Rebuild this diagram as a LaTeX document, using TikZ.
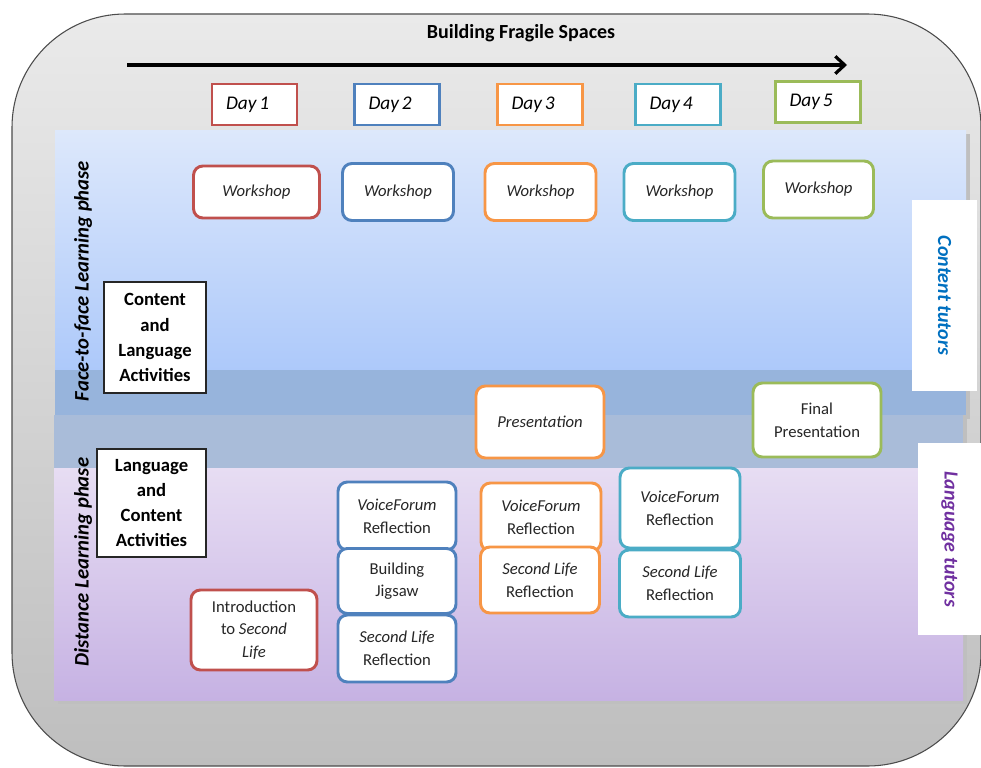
\documentclass[tikz,border=0pt]{standalone}
\usepackage{fontspec}
\setmainfont{Carlito}
\usetikzlibrary{arrows.meta}
\definecolor{dayred}{RGB}{192,80,77}
\definecolor{dayblue}{RGB}{79,129,189}
\definecolor{dayorange}{RGB}{247,150,70}
\definecolor{dayteal}{RGB}{75,172,198}
\definecolor{daygreen}{RGB}{155,187,89}
\definecolor{tutorblue}{RGB}{0,112,192}
\definecolor{tutorpurple}{RGB}{112,48,160}
\definecolor{frametop}{RGB}{234,234,234}
\definecolor{framebot}{RGB}{190,190,190}
\definecolor{facetop}{RGB}{221,232,251}
\definecolor{facebot}{RGB}{173,201,250}
\definecolor{stripa}{RGB}{151,180,220}
\definecolor{stripb}{RGB}{169,188,217}
\definecolor{disttop}{RGB}{231,221,243}
\definecolor{distbot}{RGB}{198,178,227}
\newcommand{\pxu}{0.75pt}
\newcommand{\dayno}[1]{Day\hspace{0.15em}#1}

\begin{document}
\begin{tikzpicture}[x=0.75pt,y=-0.75pt,
  wh/.style 2 args={minimum width=#1*\pxu,minimum height=#2*\pxu},
  daybox/.style={draw=#1,line width=2.2pt,fill=white,inner sep=0pt,inner xsep=10.5pt,text width=42.75pt,align=left,minimum height=41*\pxu,font=\fontsize{14.5}{17}\selectfont\itshape},
  actbox/.style={draw=#1,line width=2.2pt,fill=white,rounded corners=7pt,inner sep=0pt,align=center,text=black!85,font=\fontsize{12.5}{17}\selectfont},
  actlabel/.style={draw=black!85,line width=0.8pt,fill=white,inner sep=0pt,align=center,font=\fontsize{14}{18.8}\selectfont\bfseries},
  phaselabel/.style={rotate=90,font=\fontsize{15.5}{17}\selectfont\bfseries\itshape},
  tutorlabel/.style={rotate=-90,fill=white,inner sep=0pt,text=#1,font=\fontsize{15}{17}\selectfont\bfseries\itshape}]
\useasboundingbox (0,0) rectangle (981,767);
\shadedraw[top color=frametop,bottom color=framebot,draw=black!70,line width=0.8pt,rounded corners=85pt] (12,14) rectangle (981,766);
\fill[black!25] (59,134) rectangle (970,419);
\fill[black!25] (58,419) rectangle (967,704);
\shade[top color=facetop,bottom color=facebot] (55,130) rectangle (966,370);
\fill[stripa] (55,370) rectangle (966,415);
\fill[stripb] (54,415) rectangle (963,468);
\shade[top color=disttop,bottom color=distbot] (54,468) rectangle (963,700);

\node (title) at (521,33) [font=\fontsize{15}{18}\selectfont\bfseries] {Building Fragile Spaces};
\coordinate (tstart) at (127,65);
\coordinate (tend) at (847,65);
\draw[-{Straight Barb[length=7pt,width=13pt]},line width=2.4pt] (tstart) -- (tend);

\node (d1) at (254.5,104.5) [daybox=dayred] {\dayno{1}};
\node (d2) at (397,104.5) [daybox=dayblue] {\dayno{2}};
\node (d3) at (540,104.5) [daybox=dayorange] {\dayno{3}};
\node (d4) at (678,104.5) [daybox=dayteal] {\dayno{4}};
\node (d5) at (818,102) [daybox=daygreen] {\dayno{5}};

\node (ws1) at (256.5,192) [actbox=dayred,wh={126}{52}] {\textit{Workshop}};
\node (ws2) at (398,192) [actbox=dayblue,wh={111}{57}] {\textit{Workshop}};
\node (ws3) at (540.5,192) [actbox=dayorange,wh={111}{57}] {\textit{Workshop}};
\node (ws4) at (679.5,192) [actbox=dayteal,wh={111}{57}] {\textit{Workshop}};
\node (ws5) at (818.5,189.5) [actbox=daygreen,wh={110}{57}] {\textit{Workshop}};

\node (cla) at (155,337.5) [actlabel,wh={102}{111}] {Content\\and\\Language\\Activities};
\node (lca) at (151.5,503) [actlabel,wh={109}{108}] {Language\\and\\Content\\Activities};
\node (ftf) at (83,281) [phaselabel] {Face-to-face Learning phase};
\node (dist) at (83,562) [phaselabel] {Distance Learning phase};

\node (pr3) at (540,422) [actbox=dayorange,wh={128}{72}] {\textit{Presentation}};
\node (fp5) at (817,420) [actbox=daygreen,wh={128}{74}] {Final\\Presentation};

\node (intro1) at (254,630) [actbox=dayred,wh={126}{80}] {Introduction\\to \textit{Second}\\\textit{Life}};
\node (vf2) at (397,516) [actbox=dayblue,wh={118}{68}] {\textit{VoiceForum}\\Reflection};
\node (bj2) at (397,581) [actbox=dayblue,wh={118}{65}] {Building\\Jigsaw};
\node (sl2) at (397,648.5) [actbox=dayblue,wh={118}{67}] {\textit{Second Life}\\Reflection};
\node (vf3) at (541,517) [actbox=dayorange,wh={120}{68}] {\textit{VoiceForum}\\Reflection};
\node (sl3) at (540,580) [actbox=dayorange,wh={119}{66}] {\textit{Second Life}\\Reflection};
\node (vf4) at (680,508) [actbox=dayteal,wh={120}{80}] {\textit{VoiceForum}\\Reflection};
\node (sl4) at (680,583.5) [actbox=dayteal,wh={121}{67}] {\textit{Second Life}\\Reflection};

\node (ct) at (944.5,295.5) [tutorlabel=tutorblue,wh={191}{65}] {Content tutors};
\node (lt) at (949.5,539) [tutorlabel=tutorpurple,wh={192}{63}] {Language tutors};
\end{tikzpicture}
\end{document}
